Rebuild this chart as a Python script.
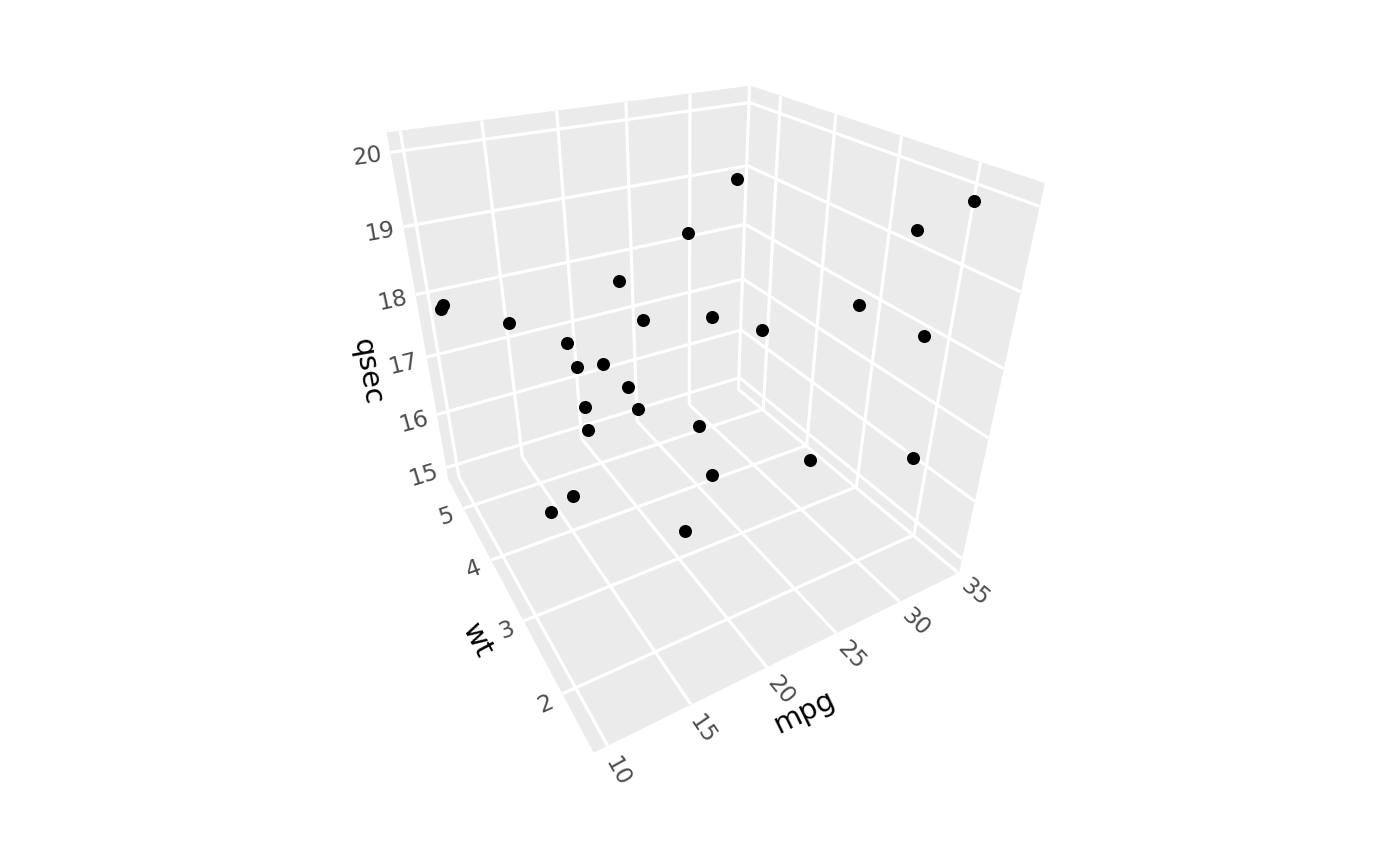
import numpy as np, pandas as pd, matplotlib
matplotlib.use("Agg")
import matplotlib.pyplot as plt, seaborn as sns

# Data (mtcars, 15 <= qsec <= 20)
mpg = [21,21,22.8,21.4,18.7,14.3,24.4,19.2,17.8,16.4,17.3,15.2,10.4,10.4,14.7,32.4,30.4,33.9,15.5,15.2,13.3,19.2,27.3,26,30.4,19.7,21.4]
wt = [2.62,2.875,2.32,3.215,3.44,3.57,3.19,3.44,3.44,4.07,3.73,3.78,5.25,5.424,5.345,2.2,1.615,1.835,3.52,3.435,3.84,3.845,1.935,2.14,1.513,2.77,2.78]
qsec = [16.46,17.02,18.61,19.44,17.02,15.84,20,18.3,18.9,17.4,17.6,18,17.98,17.82,17.42,19.47,18.52,19.9,16.87,17.3,15.41,17.05,18.9,16.7,16.9,15.5,18.6]
mpg_ticks = [10,15,20,25,30,35]
wt_ticks = [2,3,4,5]
qsec_ticks = [15,16,17,18,19,20]

m0,m1 = 9.225,35.075
w0,w1 = 1.3175,5.6195
q0,q1 = 14.75,20.25

# Perspective camera of the 3D view: world (mpg, wt, qsec) -> figure pixels
CAMERA = np.array([
    [15.072829, 8.6596364, -23.814862, 577.76625],
    [-0.77310777, -8.0005048, -62.911134, 1423.1525],
    [6.3728447e-03, 6.6965852e-02, -3.4727049e-02, 1.0],
])

def proj(X, Y, Z):
    X, Y, Z = np.broadcast_arrays(np.asarray(X,float), np.asarray(Y,float), np.asarray(Z,float))
    h = CAMERA @ np.vstack([X.ravel(), Y.ravel(), Z.ravel(), np.ones(X.size)])
    return h[0]/h[2], h[1]/h[2]

sns.set_theme(style="white")
plt.rcParams['font.family'] = ['DejaVu Sans']
fig = plt.figure(figsize=(14,8.66), dpi=100)
ax = fig.add_axes([0,0,1,1])
ax.set_xlim(0,1400); ax.set_ylim(866,0); ax.axis('off')

PANE = '#EBEBEB'
def pane(a, b, c, d):
    xs, ys = proj(*zip(a,b,c,d))
    ax.fill(xs, ys, color=PANE, lw=0.4, zorder=1)
pane((m0,w0,q0),(m1,w0,q0),(m1,w1,q0),(m0,w1,q0))
pane((m0,w1,q0),(m1,w1,q0),(m1,w1,q1),(m0,w1,q1))
pane((m1,w0,q0),(m1,w1,q0),(m1,w1,q1),(m1,w0,q1))

def seg(a, b):
    xs, ys = proj(*zip(a,b))
    ax.plot(xs, ys, color='white', lw=2.3, solid_capstyle='butt', zorder=2)
    return xs, ys

def label(xs, ys, dist, shift, text):
    dx, dy = xs[1]-xs[0], ys[1]-ys[0]
    n = np.hypot(dx, dy); dx, dy = dx/n, dy/n
    ang = np.degrees(np.arctan2(-dy, dx))
    if ang > 90: ang -= 180
    if ang < -90: ang += 180
    ax.text(xs[1]+dx*dist+shift[0], ys[1]+dy*dist+shift[1], text, rotation=ang, rotation_mode='anchor',
            ha='center', va='center', fontsize=16.8, color='#4D4D4D', zorder=3)

for m in mpg_ticks:
    xs, ys = seg((m,w1,q0),(m,w0,q0))
    seg((m,w1,q0),(m,w1,q1))
    label(xs, ys, 27, (-3.5,2.5), str(m))
for w in wt_ticks:
    xs, ys = seg((m1,w,q0),(m0,w,q0))
    seg((m1,w,q0),(m1,w,q1))
    label(xs, ys, 20, (1,2), str(w))
for q in qsec_ticks:
    xs, ys = seg((m1,w1,q),(m0,w1,q))
    seg((m1,w1,q),(m1,w0,q))
    label(xs, ys, 25, (1,1), str(q))

def title(a, b, off, text):
    xs, ys = proj(*zip(a,b))
    ang = np.degrees(np.arctan2(-(ys[1]-ys[0]), xs[1]-xs[0]))
    mx, my = proj(*[(p+q)/2 for p,q in zip(a,b)])
    ax.text(mx[0]+off[0], my[0]+off[1], text, rotation=ang, rotation_mode='anchor',
            ha='center', va='center', fontsize=20.8, color='black', zorder=3)
title((m0,w0,q0),(m1,w0,q0),(7,60),'mpg')
title((m0,w1,q0),(m0,w0,q0),(-31,50),'wt')
title((m0,w1,q1),(m0,w1,q0),(-54,45),'qsec')

px, py = proj(mpg, wt, qsec)
df = pd.DataFrame({'x':px,'y':py})
sns.scatterplot(data=df, x='x', y='y', s=88, color='#000000', linewidth=0, ax=ax, legend=False, zorder=4)
ax.set_xlim(0,1400); ax.set_ylim(866,0)
fig.savefig("out.png", dpi=100, facecolor='white')
